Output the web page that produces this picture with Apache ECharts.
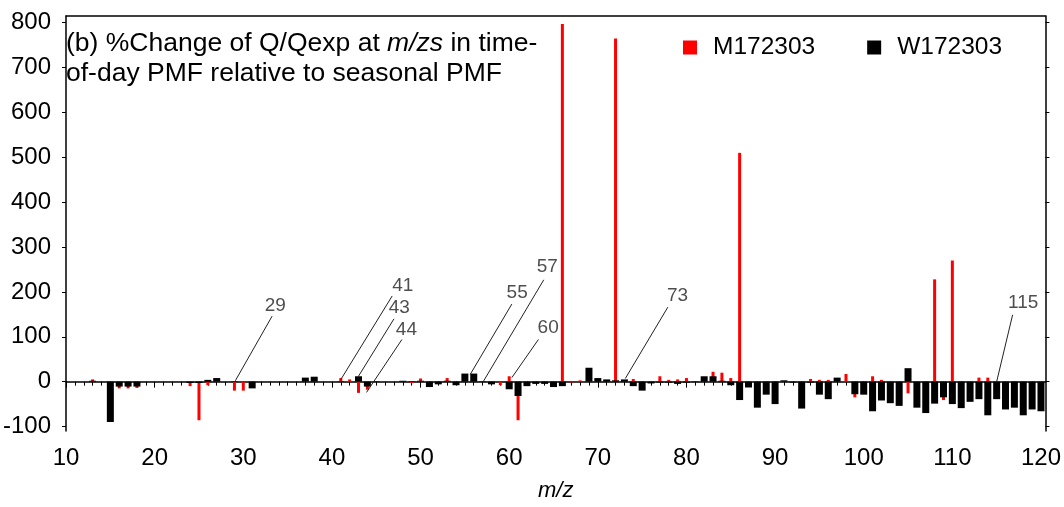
<!DOCTYPE html>
<html>
<head>
<meta charset="utf-8">
<script src="https://cdn.jsdelivr.net/npm/echarts@6/dist/echarts.min.js"></script>
<style>
html,body{margin:0;padding:0;background:#fff;}
#c{width:1064px;height:507px;}
</style>
</head>
<body>
<div id="c"></div>
<script>
// ---- data ----
const seriesNames = ['M172303', 'W172303'];
const mzM = [13,16,17,18,24,25,26,29,30,41,42,43,44,49,50,53,59,60,61,66,67,68,72,74,77,78,79,80,83,84,85,86,94,95,96,98,99,101,102,105,108,109,110,113,114];
const valM = [5,-15,-15,-14,-10,-86,-8,-20,-20,8,5,-25,-18,-3,7,8,-8,12,-86,797,-2,3,765,6,12,4,5,8,22,20,8,510,6,4,4,17,-35,12,4,-26,228,-41,270,9,9];
const mzW = [13,15,16,17,18,24,25,26,27,29,31,37,38,41,43,44,45,48,49,50,51,52,53,54,55,56,57,58,60,61,62,63,64,65,66,69,70,71,72,73,74,75,76,77,78,79,80,81,82,83,84,85,86,87,88,89,90,91,92,93,94,95,96,97,99,100,101,102,103,104,105,106,107,108,109,110,111,112,113,114,115,116,117,118,119,120];
const valW = [2,-90,-11,-11,-11,-3,-3,4,8,1,-15,9,11,1,12,-11,1,2,1,2,-12,-6,2,-8,18,18,1,-6,-17,-32,-10,-5,-5,-12,-10,31,8,5,3,5,-10,-20,-4,-2,-2,-5,-2,-1,12,12,2,-8,-41,-13,-58,-29,-50,3,-2,-60,-2,-29,-39,9,-28,-29,-66,-42,-48,-54,30,-58,-70,-49,-35,-50,-59,-45,-39,-75,-39,-62,-58,-75,-62,-66];
const yTicks = [-100,0,100,200,300,400,500,600,700,800];
const xTicks = [10,20,30,40,50,60,70,80,90,100,110,120];
// annotations: label text, label anchor [m/z, value], line start [m/z, value], line end [m/z, value]
const annLabels = ['29','41','43','44','55','57','60','73','115'];
const annText  = [[33.6,170],[48.0,213],[47.6,165],[48.4,116],[60.9,198],[64.3,255],[64.4,121],[79.0,192],[118.0,175]];
const annStart = [[33.25,146],[46.8,191],[47.0,140],[47.9,94],[60.3,173],[63.9,227],[63.3,94],[77.9,166],[116.8,149]];
const annEnd   = [[29.1,2],[40.95,3],[42.9,9],[43.9,-24],[55.6,16],[57.1,1],[60.3,9],[73.1,7],[115.0,0]];

const FONT = 'Liberation Sans, Arial, sans-serif';
const chart = echarts.init(document.getElementById('c'), null, {renderer:'canvas'});

const xCommon = {
  type:'value', min:10, max:120.5, interval:10,
  splitLine:{show:false}
};
const option = {
  animation:false,
  backgroundColor:'#fff',
  textStyle:{fontFamily:FONT},
  grid:{left:66, right:18, top:16, bottom:64, containLabel:false},
  legend:{
    data:seriesNames, left:678, top:30, itemWidth:14, itemHeight:14, itemGap:52,
    icon:'rect', textStyle:{fontSize:24.5, color:'#000', fontFamily:FONT, padding:[0,0,0,11]}
  },
  xAxis:[
    Object.assign({}, xCommon, {
      position:'bottom',
      axisLine:{show:true, lineStyle:{color:'#000', width:1.5}},
      axisTick:{show:true, inside:false, length:6, lineStyle:{color:'#000'}, customValues:xTicks},
      minorTick:{show:true, splitNumber:10, length:4, lineStyle:{color:'#000'}},
      axisLabel:{fontSize:24, color:'#000', margin:15, fontFamily:FONT, customValues:xTicks},
      name:'m/z', nameLocation:'middle', nameGap:49,
      nameTextStyle:{fontSize:22, fontStyle:'italic', color:'#000', fontFamily:FONT}
    }),
    Object.assign({}, xCommon, {
      position:'top',
      axisLine:{show:true, onZero:false, lineStyle:{color:'#000', width:1.5}},
      axisTick:{show:false}, axisLabel:{show:false}
    })
  ],
  yAxis:[
    {
      type:'value', min:-110, max:815, position:'left',
      splitLine:{show:false},
      axisLine:{show:true, onZero:false, lineStyle:{color:'#000', width:1.5}},
      axisTick:{show:true, inside:false, length:4, customValues:yTicks, lineStyle:{color:'#000'}},
      axisLabel:{fontSize:24, color:'#000', margin:15, customValues:yTicks, fontFamily:FONT}
    },
    {
      type:'value', min:-110, max:815, position:'right',
      splitLine:{show:false},
      axisLine:{show:true, onZero:false, lineStyle:{color:'#000', width:1.5}},
      axisTick:{show:true, inside:false, length:4, customValues:yTicks, lineStyle:{color:'#000'}},
      axisLabel:{show:false}
    }
  ],
  graphic:[{
    type:'text', left:66, top:30,
    style:{
      text:'{n|(b) %Change of Q/Qexp at }{i|m/zs}{n| in time-}\n{n|of-day PMF relative to seasonal PMF}',
      rich:{
        n:{fontSize:26.5, fontFamily:FONT, fill:'#000', lineHeight:30},
        i:{fontSize:26.5, fontFamily:FONT, fill:'#000', fontStyle:'italic', lineHeight:30}
      }
    }
  }],
  series:[
    {
      name:seriesNames[0], type:'bar', xAxisIndex:0, yAxisIndex:0,
      barWidth:3, itemStyle:{color:'#ff0000'},
      data:mzM.map((m,i)=>[m,valM[i]])
    },
    {
      name:seriesNames[1], type:'bar', xAxisIndex:1, yAxisIndex:0,
      barWidth:7, itemStyle:{color:'#000000'},
      data:mzW.map((m,i)=>[m,valW[i]])
    },
    {
      name:'annotations', type:'scatter', xAxisIndex:0, yAxisIndex:0,
      symbolSize:0, silent:true,
      label:{show:true, position:'inside', formatter:p=>p.data[2], fontSize:19, color:'#222', fontFamily:FONT},
      data:annText.map((p,i)=>[p[0],p[1],annLabels[i]]),
      markLine:{
        silent:true, symbol:['none','none'], animation:false,
        lineStyle:{color:'#222', width:1, type:'solid'},
        label:{show:false},
        data:annStart.map((s,i)=>[{coord:s},{coord:annEnd[i]}])
      }
    }
  ]
};
chart.setOption(option);
</script>
</body>
</html>
